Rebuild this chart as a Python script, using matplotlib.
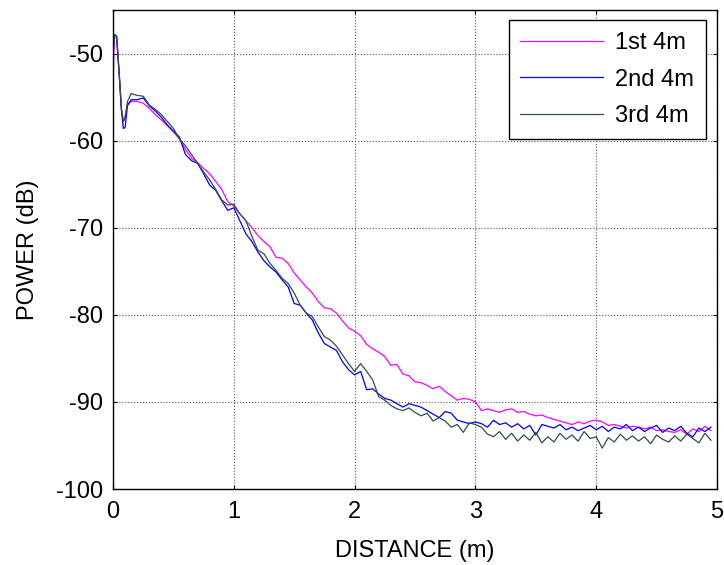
import numpy as np
import matplotlib.pyplot as plt

plt.rcParams['font.family'] = ['Liberation Sans', 'DejaVu Sans']
plt.rcParams['axes.unicode_minus'] = False

# near-field part of the trace (uneven spacing around the first reflection)
dist_head = [0.0, 0.01, 0.03, 0.05, 0.07, 0.085, 0.10, 0.12]
run1_head = [-54.3, -48.0, -48.2, -52.2, -56.5, -57.8, -57.2, -55.8]
run2_head = [-50.5, -47.8, -48.0, -52.0, -56.5, -58.6, -58.5, -56.0]
run3_head = [-50.5, -47.8, -48.0, -52.0, -56.3, -57.8, -57.5, -55.5]

# remaining samples every 0.05 m starting at 0.15 m
tail_start = 0.15
tail_step = 0.05
run1_tail = [
    -55.5, -55.5, -55.7, -56.3, -57.0, -57.6, -58.3, -59.0, -59.8, -61.0,
    -62.0, -62.5, -63.2, -63.8, -64.7, -65.6, -67.0, -67.5, -68.4, -69.2,
    -70.0, -70.9, -71.6, -72.2, -73.4, -73.5, -74.1, -75.2, -76.0, -76.8,
    -77.5, -78.5, -79.2, -79.3, -79.8, -80.7, -81.5, -81.9, -82.4, -83.4,
    -83.9, -84.3, -84.8, -85.8, -85.7, -86.8, -87.0, -87.7, -87.8, -88.1,
    -88.5, -88.2, -88.8, -89.3, -89.8, -89.6, -89.7, -90.0, -91.0, -90.8,
    -91.0, -91.2, -90.9, -90.8, -91.2, -91.1, -91.4, -91.6, -91.5, -91.8,
    -92.0, -92.2, -92.4, -92.6, -92.3, -92.5, -92.2, -92.1, -92.3, -92.7,
    -92.6, -92.8, -93.0, -92.8, -92.9, -93.1, -92.9, -93.3, -93.2, -93.4,
    -93.5, -93.2, -93.7, -93.1, -93.4, -92.8, -93.3,
]
run2_tail = [
    -55.3, -55.3, -55.1, -56.0, -56.6, -57.3, -58.2, -58.9, -59.6, -61.6,
    -62.3, -62.6, -63.8, -65.1, -65.7, -66.9, -68.0, -67.7, -69.2, -70.7,
    -71.6, -72.8, -73.8, -74.5, -75.1, -76.0, -76.8, -78.7, -78.9, -79.8,
    -80.6, -82.1, -83.3, -83.7, -84.1, -85.4, -86.3, -86.9, -86.5, -88.6,
    -88.5, -89.1, -89.6, -89.8, -90.2, -90.6, -90.2, -90.4, -90.6, -91.0,
    -91.4, -91.8, -91.1, -91.3, -92.1, -92.3, -92.5, -92.3, -92.5, -92.9,
    -92.1, -92.6, -92.4, -92.9, -92.5, -93.1, -92.7, -93.8, -92.6, -92.8,
    -93.0, -92.6, -93.2, -92.9, -93.3, -93.0, -92.7, -93.2, -92.8, -93.4,
    -92.9, -93.1, -92.6, -93.3, -92.9, -93.4, -93.0, -92.7, -93.5, -93.0,
    -93.3, -92.8, -93.6, -94.0, -93.0, -93.4, -92.9,
]
run3_tail = [
    -54.6, -54.8, -54.9, -55.9, -56.4, -57.0, -57.8, -58.6, -59.8, -60.6,
    -61.6, -62.6, -63.6, -64.5, -65.6, -66.8, -67.4, -67.3, -68.4, -69.2,
    -71.0, -72.6, -73.0, -74.1, -74.9, -75.8, -76.4, -77.5, -78.9, -79.8,
    -80.2, -81.4, -82.5, -82.9, -83.6, -84.6, -85.6, -86.5, -85.6, -86.5,
    -87.5, -89.4, -89.8, -90.4, -90.8, -91.0, -90.7, -91.2, -91.6, -91.3,
    -92.2, -91.8, -92.2, -92.9, -92.6, -93.5, -92.4, -92.6, -92.9, -93.7,
    -94.0, -93.4, -94.3, -93.6, -94.5, -93.8, -94.4, -93.5, -94.7, -94.0,
    -94.6, -93.6, -94.3, -93.8, -94.5, -93.4, -94.2, -94.0, -95.3, -94.1,
    -94.6, -93.7, -94.4, -93.9, -94.5, -94.0, -94.8, -93.8, -94.3, -94.6,
    -93.9, -94.5, -93.7, -94.2, -94.7, -93.6, -94.4,
]

labels = ['1st 4m', '2nd 4m', '3rd 4m']
colors = ['#FF00FF', '#0000FF', '#2E5339']


def trace(head, tail):
    x_tail = tail_start + tail_step * np.arange(len(tail))
    return np.concatenate([dist_head, x_tail]), np.concatenate([head, tail])


runs = [trace(run1_head, run1_tail), trace(run2_head, run2_tail), trace(run3_head, run3_tail)]

fig = plt.figure(figsize=(7.24, 5.65), dpi=100)
ax = fig.add_axes([113 / 724, 1 - 489 / 565, 604 / 724, 479 / 565])

for (x, y), lab, c in zip(runs, labels, colors):
    ax.plot(x, y, color=c, lw=0.9, label=lab)

ax.set_xlim(0, 5)
ax.set_ylim(-100, -45)
ax.set_xticks(range(0, 6))
ax.set_yticks(range(-100, -49, 10))
ax.grid(True, color='0.35', linestyle=':', linewidth=0.8)
ax.tick_params(direction='in', top=True, right=True, length=3, labelsize=17, pad=7)
ax.tick_params(axis='x', pad=9)
for s in ax.spines.values():
    s.set_linewidth(1.0)

ax.set_xlabel('DISTANCE (m)', fontsize=17, labelpad=12)
ax.set_ylabel('POWER (dB)', fontsize=17, labelpad=12)

leg = ax.legend(loc='upper right', bbox_to_anchor=(0.981, 0.979), fontsize=17,
                fancybox=False, framealpha=1, edgecolor='black', borderaxespad=0,
                handlelength=3.5, handletextpad=0.5, labelspacing=0.62, borderpad=0.5)
leg.get_frame().set_linewidth(1.0)

fig.savefig('out.png', dpi=100)
